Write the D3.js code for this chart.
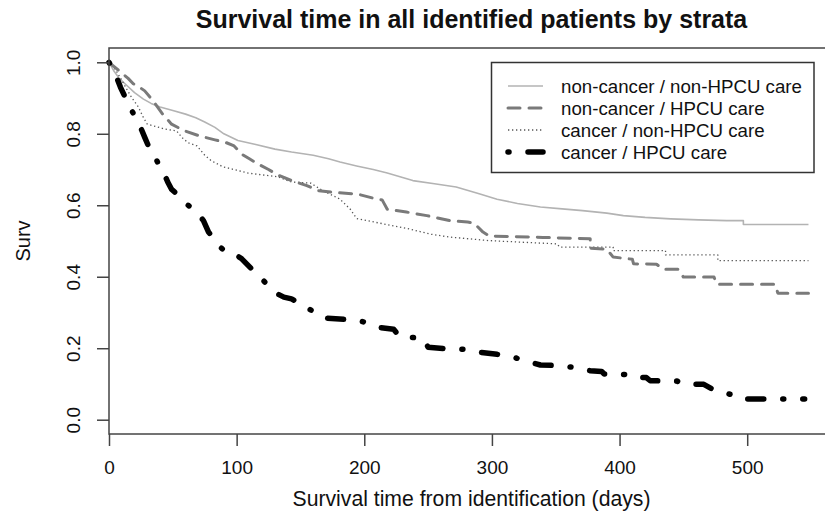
<!DOCTYPE html>
<html>
<head>
<meta charset="utf-8">
<script src="https://cdn.jsdelivr.net/npm/d3@7"></script>
<style>
  html, body { margin: 0; padding: 0; background: #fff; }
  svg { display: block; }
  text { font-family: "Liberation Sans", Arial, Helvetica, sans-serif; fill: #111; }
</style>
</head>
<body>
<svg id="chart" width="825" height="512"></svg>
<script>
// ---- data ----
const titleText = "Survival time in all identified patients by strata";
const xLabel = "Survival time from identification (days)";
const yLabel = "Surv";
const xTicks = [0, 100, 200, 300, 400, 500];
const yTicks = [0.0, 0.2, 0.4, 0.6, 0.8, 1.0];
const seriesNames = ["non-cancer / non-HPCU care", "non-cancer / HPCU care", "cancer / non-HPCU care", "cancer / HPCU care"];

// survival curve vertices (day, survival); repeated days mark vertical drops
const ncNonDays = [0, 4, 8, 14, 20, 27, 33, 40, 50, 60, 68, 75, 83, 90, 101, 115, 130, 143, 160, 172, 181, 194, 207, 218, 228, 238, 255, 272, 290, 304, 320, 338, 355, 371, 390, 403, 420, 440, 462, 484, 497, 497, 548];
const ncNonSurv = [1.0, 0.975, 0.955, 0.935, 0.915, 0.897, 0.885, 0.875, 0.865, 0.855, 0.845, 0.833, 0.818, 0.80, 0.781, 0.77, 0.757, 0.749, 0.74, 0.73, 0.721, 0.71, 0.70, 0.69, 0.68, 0.669, 0.66, 0.651, 0.632, 0.617, 0.605, 0.595, 0.59, 0.585, 0.578, 0.571, 0.566, 0.562, 0.559, 0.557, 0.557, 0.546, 0.546];

const ncHpcuDays = [0, 5, 10, 15, 19, 24, 28, 35, 42, 49, 58, 70, 83, 92, 98, 104, 110, 117, 125, 132, 143, 155, 164, 176, 195, 210, 214, 218, 233, 249, 267, 281, 286, 293, 298, 340, 377, 377, 390, 395, 410, 411, 429, 434, 446, 450, 474, 476, 522, 524, 548];
const ncHpcuSurv = [1.0, 0.985, 0.97, 0.955, 0.94, 0.93, 0.92, 0.89, 0.855, 0.827, 0.81, 0.795, 0.783, 0.775, 0.766, 0.743, 0.73, 0.715, 0.70, 0.685, 0.669, 0.655, 0.641, 0.636, 0.631, 0.617, 0.615, 0.589, 0.581, 0.571, 0.557, 0.553, 0.55, 0.525, 0.514, 0.51, 0.506, 0.48, 0.477, 0.455, 0.449, 0.436, 0.435, 0.421, 0.421, 0.399, 0.399, 0.379, 0.379, 0.354, 0.354];

const cNonDays = [0, 5, 10, 13, 18, 23, 27, 30, 44, 53, 57, 62, 69, 75, 80, 89, 100, 109, 120, 132, 143, 158, 168, 181, 189, 194, 202, 215, 236, 252, 267, 298, 351, 353, 395, 395, 436, 436, 477, 477, 548];
const cNonSurv = [1.0, 0.98, 0.95, 0.93, 0.90, 0.875, 0.845, 0.827, 0.813, 0.808, 0.79, 0.775, 0.766, 0.74, 0.725, 0.708, 0.698, 0.69, 0.685, 0.68, 0.665, 0.662, 0.64, 0.617, 0.589, 0.563, 0.557, 0.548, 0.533, 0.519, 0.511, 0.501, 0.492, 0.483, 0.483, 0.473, 0.473, 0.461, 0.461, 0.445, 0.445];

const cHpcuDays = [0, 5, 9, 14, 20, 23, 28, 31, 34, 38, 43, 46, 49, 55, 60, 66, 70, 74, 78, 81, 87, 93, 100, 104, 112, 117, 125, 132, 137, 143, 152, 161, 167, 195, 202, 210, 223, 228, 246, 250, 262, 278, 290, 304, 314, 326, 338, 348, 363, 377, 386, 388, 410, 413, 421, 424, 445, 450, 466, 475, 489, 494, 545];
const cHpcuSurv = [1.0, 0.967, 0.93, 0.892, 0.85, 0.833, 0.79, 0.765, 0.749, 0.721, 0.69, 0.665, 0.645, 0.625, 0.605, 0.59, 0.575, 0.557, 0.525, 0.511, 0.483, 0.466, 0.46, 0.45, 0.421, 0.403, 0.375, 0.352, 0.343, 0.338, 0.319, 0.301, 0.285, 0.278, 0.271, 0.259, 0.253, 0.231, 0.229, 0.203, 0.199, 0.197, 0.189, 0.183, 0.178, 0.165, 0.153, 0.152, 0.147, 0.137, 0.135, 0.128, 0.126, 0.119, 0.118, 0.109, 0.108, 0.10, 0.099, 0.081, 0.069, 0.058, 0.058];

// ---- layout ----
const svg = d3.select("#chart");
const plotLeft = 109, plotRight = 834, plotTop = 48, plotBottom = 434;

const x = d3.scaleLinear().domain([0, 568]).range([plotLeft, plotRight]);
const y = d3.scaleLinear().domain([-0.04, 1.04]).range([plotBottom, plotTop]);

const styles = [
  { color: "#b3b3b3", width: 1.6, dash: null, cap: "butt" },
  { color: "#7a7a7a", width: 3, dash: "12,9", cap: "round" },
  { color: "#555555", width: 1.3, dash: "1.3,2.7", cap: "butt" },
  { color: "#000000", width: 5.5, dash: "1,19,16,19", cap: "round" }
];

const series = [
  ncNonDays.map((d, i) => [d, ncNonSurv[i]]),
  ncHpcuDays.map((d, i) => [d, ncHpcuSurv[i]]),
  cNonDays.map((d, i) => [d, cNonSurv[i]]),
  cHpcuDays.map((d, i) => [d, cHpcuSurv[i]])
];

const line = d3.line().x(d => x(d[0])).y(d => y(d[1])).curve(d3.curveLinear);

// curves
const order = [0, 2, 1, 3];
order.forEach(i => {
  const s = styles[i];
  svg.append("path")
    .datum(series[i])
    .attr("d", line)
    .attr("fill", "none")
    .attr("stroke", s.color)
    .attr("stroke-width", s.width)
    .attr("stroke-linecap", s.cap)
    .attr("stroke-linejoin", "round")
    .attr("stroke-dasharray", s.dash);
});

// box
svg.append("rect")
  .attr("x", plotLeft).attr("y", plotTop)
  .attr("width", plotRight - plotLeft).attr("height", plotBottom - plotTop)
  .attr("fill", "none").attr("stroke", "#444").attr("stroke-width", 1.5);

// x axis
const gx = svg.append("g").attr("transform", `translate(0,${plotBottom})`)
  .call(d3.axisBottom(x).tickValues(xTicks).tickSize(12).tickFormat(d3.format("d")));
gx.select(".domain").remove();
gx.selectAll(".tick line").attr("stroke", "#444").attr("stroke-width", 1.5);
gx.selectAll(".tick text").attr("y", 40).attr("dy", 0)
  .style("font-size", "19px").style("fill", "#111");

// y axis
const gy = svg.append("g").attr("transform", `translate(${plotLeft},0)`)
  .call(d3.axisLeft(y).tickValues(yTicks).tickSize(12).tickFormat(d3.format(".1f")));
gy.select(".domain").remove();
gy.selectAll(".tick line").attr("stroke", "#444").attr("stroke-width", 1.5);
gy.selectAll(".tick text")
  .attr("transform", "rotate(-90)")
  .attr("x", 0).attr("y", -29).attr("dy", 0)
  .style("text-anchor", "middle")
  .style("font-size", "19px").style("fill", "#111");

// title & labels
svg.append("text").attr("x", (plotLeft + plotRight) / 2).attr("y", 28)
  .attr("text-anchor", "middle").style("font-size", "25px").style("font-weight", "bold")
  .text(titleText);
svg.append("text").attr("x", (plotLeft + plotRight) / 2).attr("y", 506)
  .attr("text-anchor", "middle").style("font-size", "21.2px")
  .text(xLabel);
svg.append("text")
  .attr("transform", `translate(30,${(plotTop + plotBottom) / 2}) rotate(-90)`)
  .attr("text-anchor", "middle").style("font-size", "20px")
  .text(yLabel);

// legend
const lg = svg.append("g");
lg.append("rect").attr("x", 491.5).attr("y", 62.5).attr("width", 322.5).attr("height", 110)
  .attr("fill", "#fff").attr("stroke", "#333").attr("stroke-width", 1.5);
const rowY = [86, 108, 130, 152];
seriesNames.forEach((name, i) => {
  const s = styles[i];
  lg.append("line").attr("x1", 508).attr("x2", 543).attr("y1", rowY[i]).attr("y2", rowY[i])
    .attr("stroke", s.color).attr("stroke-width", s.width)
    .attr("stroke-linecap", s.cap).attr("stroke-dasharray", s.dash);
  lg.append("text").attr("x", 561).attr("y", rowY[i]).attr("dy", "0.35em")
    .style("font-size", "18.7px").text(name);
});
</script>
</body>
</html>
